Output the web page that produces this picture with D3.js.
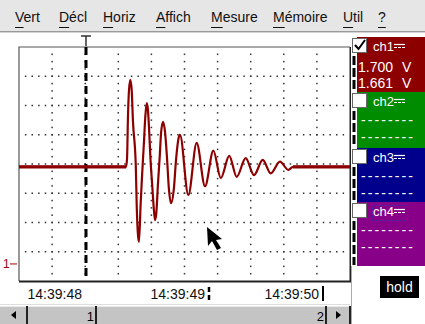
<!DOCTYPE html>
<html lang="fr">
<head>
<meta charset="utf-8">
<script src="https://cdn.jsdelivr.net/npm/d3@7"></script>
<style>
  body { margin: 0; background: #fff; }
  svg { display: block; font-family: "Liberation Sans", Arial, sans-serif; }
</style>
</head>
<body>
<div id="scope"></div>
<script>
// ch1 trace: time in ms from the left edge, volts
const timeMs = [0, 808, 816, 823, 831, 841, 851, 861, 882, 889,
  897, 906, 919, 929, 944, 954, 965, 974, 982, 992,
  1007, 1017, 1027, 1037, 1050, 1063, 1073, 1088, 1103, 1118,
  1131, 1148, 1171, 1186, 1206, 1216, 1279, 1342, 1405, 1468,
  1524, 1588, 1644, 1712, 1775, 1841, 1901, 1971, 2034, 2070, 2500];
const volts = [1.65, 1.65, 1.79, 2.51, 2.97, 3.14, 2.97, 2.42, 1.68, 1.00,
  0.54, 0.37, 1.03, 1.48, 2.08, 2.51, 2.74, 2.62, 2.32, 1.83,
  1.31, 0.97, 0.74, 0.86, 1.38, 1.83, 2.23, 2.42, 2.25, 1.80,
  1.31, 1.03, 1.31, 1.77, 2.15, 2.20, 1.17, 2.06, 1.32, 1.93,
  1.46, 1.84, 1.48, 1.80, 1.51, 1.77, 1.54, 1.74, 1.60, 1.65, 1.65];

const menuItems = ["Vert", "Décl", "Horiz", "Affich", "Mesure", "Mémoire", "Util", "?"];
const channels = ["ch1", "ch2", "ch3", "ch4"];
const channelColors = ["#8c0000", "#008c00", "#00008c", "#880088"];
const ch1Readings = ["1.700", "1.661"];
const cursorTimes = [506, 1435, 2296];
const cursorLabels = ["14:39:48", "14:39:49", "14:39:50"];

// layout
const W = 425, H = 324;
const plot = {left: 19, right: 350, top: 47, bottom: 281};
const menuX = [15, 59, 103, 156, 211, 273, 343, 378];
const boxTop = [37, 92, 148, 202], boxBottom = [92, 148, 202, 266];

const svg = d3.select("#scope").append("svg")
  .attr("width", W).attr("height", H);

svg.append("rect").attr("width", W).attr("height", H).attr("fill", "#fff");

// menu bar
svg.append("rect").attr("width", W).attr("height", 31).attr("fill", "#e6e6e6");
svg.append("line").attr("x1", 0).attr("x2", W).attr("y1", 31.5).attr("y2", 31.5).attr("stroke", "#9a9a9a");
svg.append("line").attr("x1", 0).attr("x2", W).attr("y1", 32.5).attr("y2", 32.5).attr("stroke", "#d4d4d4");

const menu = svg.append("g").selectAll("g").data(menuItems).join("g")
  .attr("transform", (d, i) => "translate(" + menuX[i] + ",22)");
menu.append("text").text(d => d).attr("font-size", 14).attr("fill", "#111");
menu.append("line")
  .attr("x1", 0).attr("y1", 5.5).attr("y2", 5.5)
  .attr("x2", function (d) {
    const t = this.parentNode.querySelector("text");
    return t.getSubStringLength(0, 1);
  })
  .attr("stroke", "#111");

// scales
const x = d3.scaleLinear().domain([0, 2500]).range([plot.left, plot.right]);
const y = d3.scaleLinear().domain([-0.3, 3.7]).range([plot.bottom, plot.top]);

// dotted graticule: 10 x 8 divisions
const divW = (plot.right - plot.left) / 10, divH = (plot.bottom - plot.top) / 8;
const grid = svg.append("g").attr("fill", "#333");
d3.range(1, 10).forEach(i => {
  grid.selectAll(null).data(d3.range(1, 32)).join("rect")
    .attr("x", plot.left + i * divW - 0.75)
    .attr("y", k => plot.top + k * divH / 4 - 0.75)
    .attr("width", 1.5).attr("height", 1.5);
});
d3.range(1, 8).forEach(j => {
  grid.selectAll(null).data(d3.range(1, 50)).join("rect")
    .attr("x", k => plot.left + k * divW / 5 - 0.75)
    .attr("y", plot.top + j * divH - 0.75)
    .attr("width", 1.5).attr("height", 1.5);
});

// frame
svg.append("path")
  .attr("d", `M${plot.left},${plot.bottom}V${plot.top}H${plot.right}`)
  .attr("fill", "none").attr("stroke", "#555").attr("stroke-width", 1.2);
svg.append("path")
  .attr("d", `M${plot.left},${plot.bottom + 0.5}H${plot.right + 0.5}V${plot.top}`)
  .attr("fill", "none").attr("stroke", "#222").attr("stroke-width", 2);

// trigger marker
const tx = x(cursorTimes[0]);
svg.append("path").attr("d", `M${tx - 5},36H${tx + 5}M${tx},36V46`)
  .attr("stroke", "#333").attr("stroke-width", 1.5).attr("fill", "none");
svg.append("line").attr("x1", tx).attr("x2", tx).attr("y1", 47).attr("y2", plot.bottom)
  .attr("stroke", "#000").attr("stroke-width", 3).attr("stroke-dasharray", "8,5");

// trace
const pts = timeMs.map((t, i) => [t, volts[i]]);
const line = d3.line().x(d => x(d[0])).y(d => y(d[1])).curve(d3.curveMonotoneX);
svg.append("clipPath").attr("id", "clip").append("rect")
  .attr("x", plot.left).attr("y", plot.top)
  .attr("width", plot.right - plot.left).attr("height", plot.bottom - plot.top);
const trace = svg.append("g").attr("clip-path", "url(#clip)");
trace.append("path").datum(pts).attr("d", line)
  .attr("fill", "none").attr("stroke", "#8c0000").attr("stroke-width", 2.2)
  .attr("stroke-linejoin", "round");
[pts.slice(0, 2), pts.slice(-2)].forEach(seg => {
  trace.append("path").datum(seg).attr("d", d3.line().x(d => x(d[0])).y(d => y(d[1])))
    .attr("stroke", "#8c0000").attr("stroke-width", 3.2);
});

// ch1 ground marker
svg.append("text").attr("x", 3).attr("y", y(0) + 5).text("1")
  .attr("font-size", 12).attr("fill", "#a00000");
svg.append("line").attr("x1", 10).attr("x2", 17).attr("y1", y(0) + 0.5).attr("y2", y(0) + 0.5)
  .attr("stroke", "#a00000");

// mouse pointer
svg.append("path")
  .attr("d", "M207,227 L208,246 L212,241 L217,250 L221,248 L216,240 L222,239 Z")
  .attr("fill", "#000");

// time labels and cursor marks
cursorLabels.forEach((lab, i) => {
  const cx = x(cursorTimes[i]);
  svg.append("text").attr("x", cx - 4).attr("y", 299).attr("text-anchor", "end")
    .attr("font-size", 14).attr("fill", "#111").text(lab);
});
svg.append("line").attr("x1", x(cursorTimes[1])).attr("x2", x(cursorTimes[1]))
  .attr("y1", 287).attr("y2", 301).attr("stroke", "#000").attr("stroke-width", 2.5)
  .attr("stroke-dasharray", "5,3");
svg.append("line").attr("x1", x(cursorTimes[2])).attr("x2", x(cursorTimes[2]))
  .attr("y1", 286).attr("y2", 301).attr("stroke", "#000").attr("stroke-width", 2);

// scroll bar
const sb = svg.append("g");
sb.append("line").attr("x1", 0).attr("x2", plot.right).attr("y1", 304.5).attr("y2", 304.5).attr("stroke", "#ddd");
sb.append("rect").attr("x", 0).attr("y", 306).attr("width", plot.right).attr("height", 18).attr("fill", "#c4c4c4");
sb.append("line").attr("x1", 0).attr("x2", plot.right).attr("y1", 306.5).attr("y2", 306.5).attr("stroke", "#e8e8e8");
[27, 96, x(2296) + 3, plot.right].forEach(v => {
  sb.append("line").attr("x1", v).attr("x2", v).attr("y1", 306).attr("y2", 324)
    .attr("stroke", "#222").attr("stroke-width", 2);
});
sb.append("path").attr("d", "M11,315 L16,311 L16,319 Z").attr("fill", "#000");
sb.append("path").attr("d", "M341,315 L336,311 L336,319 Z").attr("fill", "#000");
sb.append("text").attr("x", 94).attr("y", 321).attr("text-anchor", "end").attr("font-size", 13).text("1");
sb.append("text").attr("x", 324).attr("y", 321).attr("text-anchor", "end").attr("font-size", 13).text("2");

// channel panel
const panel = svg.append("g");
panel.append("line").attr("x1", 351.5).attr("x2", 351.5).attr("y1", 266).attr("y2", H).attr("stroke", "#aaa");
channels.forEach((ch, i) => {
  const t = boxTop[i], b = boxBottom[i];
  panel.append("rect").attr("x", 351).attr("y", t).attr("width", W - 351).attr("height", b - t)
    .attr("fill", channelColors[i]);
  panel.append("rect").attr("x", 351).attr("y", t).attr("width", 6).attr("height", b - t).attr("fill", "#fff");
  panel.append("line").attr("x1", 354).attr("x2", 354).attr("y1", t + 19).attr("y2", b - 1)
    .attr("stroke", "#000").attr("stroke-width", 3).attr("stroke-dasharray", "9,3");
  panel.append("rect").attr("x", 352.5).attr("y", t + 1.5).attr("width", 14).attr("height", 14)
    .attr("fill", "#fff").attr("stroke", "#666");
  panel.append("text").attr("x", 373).attr("y", t + 14).attr("font-size", 13).attr("fill", "#fff").text(ch);
  // DC coupling symbol
  panel.append("line").attr("x1", 394).attr("x2", 405).attr("y1", t + 7.5).attr("y2", t + 7.5)
    .attr("stroke", "#fff").attr("stroke-width", 1.2);
  panel.append("line").attr("x1", 394).attr("x2", 405).attr("y1", t + 10.5).attr("y2", t + 10.5)
    .attr("stroke", "#fff").attr("stroke-width", 1.2).attr("stroke-dasharray", "3,1");
  if (i === 0) {
    panel.append("path").attr("d", `M355,${t + 8} L358.5,${t + 12} L365,${t + 3}`)
      .attr("fill", "none").attr("stroke", "#000").attr("stroke-width", 2);
    ch1Readings.forEach((r, k) => {
      panel.append("text").attr("x", 358).attr("y", t + 35 + k * 16).attr("font-size", 14)
        .attr("fill", "#fff").text(r);
      panel.append("text").attr("x", 402).attr("y", t + 35 + k * 16).attr("font-size", 14)
        .attr("fill", "#fff").text("V");
    });
  } else {
    [0, 1].forEach(k => {
      panel.append("text").attr("x", 361).attr("y", t + 33 + k * 17).attr("font-size", 14)
        .attr("fill", "#fff").attr("textLength", 52).attr("lengthAdjust", "spacing").text("--------");
    });
  }
  if (i === 3) {
    panel.append("rect").attr("x", 372.5).attr("y", t + 3.5).attr("width", 35).attr("height", 15)
      .attr("fill", "none").attr("stroke", "#3030b0").attr("stroke-dasharray", "2,2");
  }
});

// hold button
panel.append("rect").attr("x", 380).attr("y", 276).attr("width", 39).attr("height", 22).attr("fill", "#000");
panel.append("text").attr("x", 399.5).attr("y", 292).attr("text-anchor", "middle")
  .attr("font-size", 14).attr("fill", "#fff").text("hold");
</script>
</body>
</html>
